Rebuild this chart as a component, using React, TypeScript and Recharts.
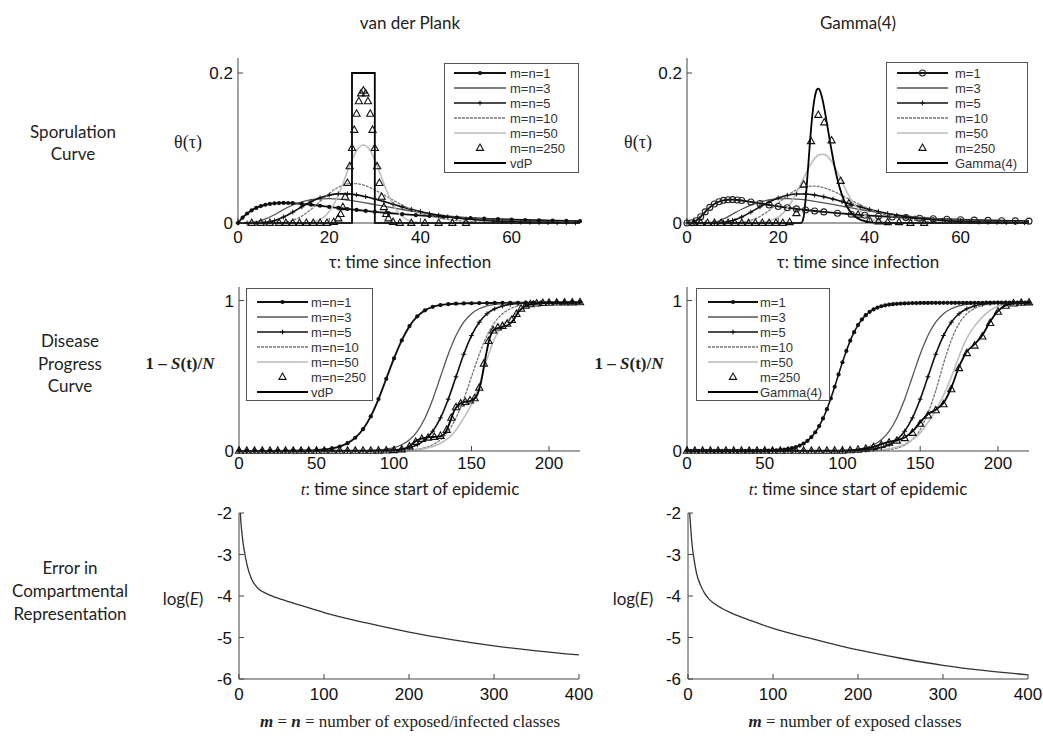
import React from "react";
import { ComposedChart, Line, Scatter, XAxis, YAxis } from "recharts";

// ---------- sporulation curves (tau, 0..75) ----------
const tau2 = [0, 2, 4, 6, 8, 10, 12, 14, 16, 18, 20, 22, 24, 26, 28, 30, 32, 34, 36, 38, 40, 42, 44, 46, 48, 50, 52, 54, 56, 58, 60, 62, 64, 66, 68, 70, 72, 74];

const vdpSpoM1: [number, number][] = [
  [0, 0], [1, 0.0071], [2, 0.0127], [3, 0.0169], [4, 0.0201], [5, 0.0226], [6, 0.0243], [7, 0.0255], [8, 0.0262], [9, 0.0266], [10, 0.0268], [11, 0.0267], [12, 0.0264],
  [14, 0.0255], [16, 0.0243], [18, 0.023], [20, 0.0215], [22, 0.0201], [24, 0.0187], [26, 0.0174], [28, 0.0161], [30, 0.0149], [33, 0.0133], [36, 0.0118], [39, 0.0105],
  [42, 0.0093], [45, 0.0083], [48, 0.0073], [51, 0.0065], [54, 0.0058], [57, 0.0051], [60, 0.0045], [63, 0.004], [66, 0.0036], [69, 0.0032], [72, 0.0028], [75, 0.0025],
];
const vdpSpoM3 = [0, 0.0005, 0.0015, 0.0054, 0.011, 0.018, 0.024, 0.0282, 0.031, 0.0322, 0.0325, 0.0319, 0.0306, 0.0289, 0.0268, 0.0246, 0.0224, 0.0201, 0.018, 0.016, 0.0141, 0.0124, 0.0108, 0.0094, 0.0082, 0.0071, 0.0061, 0.0053, 0.0045, 0.0039, 0.0033, 0.0028, 0.0024, 0.0021, 0.0018, 0.0015, 0.0013, 0.0011];
const vdpSpoM5 = [0, 0, 0.0001, 0.0008, 0.0031, 0.0079, 0.0145, 0.0216, 0.0283, 0.0336, 0.0372, 0.0389, 0.0389, 0.0375, 0.0351, 0.032, 0.0286, 0.025, 0.0215, 0.0182, 0.0153, 0.0126, 0.0103, 0.0084, 0.0067, 0.0054, 0.0043, 0.0034, 0.0026, 0.002, 0.0016, 0.0012, 0.0009, 0.0007, 0.0005, 0.0004, 0.0003, 0.0002];
const vdpSpoM10 = [0, 0, 0, 0, 0.0001, 0.0009, 0.0035, 0.0092, 0.0181, 0.0289, 0.0394, 0.0476, 0.0521, 0.0524, 0.0495, 0.0442, 0.0375, 0.0305, 0.024, 0.0182, 0.0135, 0.0097, 0.0068, 0.0047, 0.0032, 0.0021, 0.0014, 0.0009, 0.0006, 0.0004, 0.0002, 0.0001, 0, 0, 0, 0, 0, 0];
const vdpSpoM50: [number, number][] = [
  [0, 0], [10, 0], [14, 0.0002], [16, 0.0011], [18, 0.0047], [19, 0.0088], [20, 0.0153], [21, 0.0247], [22, 0.0373], [23, 0.0524], [24, 0.0688], [25, 0.0842], [26, 0.0964],
  [27, 0.1031], [27.5, 0.104], [28, 0.1031], [29, 0.0964], [30, 0.0842], [31, 0.0688], [32, 0.0524], [33, 0.0373], [34, 0.0247], [35, 0.0153], [36, 0.0088], [37, 0.0048],
  [38, 0.0024], [40, 0.0005], [42, 0.0001], [46, 0], [75, 0],
];
const vdpSpoM250: [number, number][] = [
  [3, 0], [5, 0], [7, 0], [9, 0], [10.5, 0], [12, 0], [13.5, 0], [15, 0], [16.5, 0], [18, 0], [19.5, 0], [21, 0.0012], [22, 0.0061], [22.5, 0.0118], [23, 0.0211],
  [23.5, 0.0348], [24, 0.0532], [24.5, 0.0755], [25, 0.0998], [25.5, 0.1241], [26, 0.1456], [26.5, 0.1623], [27, 0.1727], [27.5, 0.1764], [28, 0.1727], [28.5, 0.1623],
  [29, 0.1456], [29.5, 0.1241], [30, 0.0998], [30.5, 0.0755], [31, 0.0532], [31.5, 0.0348], [32, 0.0211], [32.5, 0.0118], [33, 0.0061], [34, 0.0012], [35.5, 0], [38, 0],
  [41, 0], [44, 0], [47, 0], [50, 0],
];
const vdpSpoRef: [number, number][] = [[0, 0], [25, 0], [25, 0.2], [30, 0.2], [30, 0], [75, 0]];

const gamSpoM1: [number, number][] = [
  [0, 0], [1, 0.0004], [2, 0.003], [3, 0.0084], [4, 0.0149], [5, 0.0208], [6, 0.0253], [7, 0.0284], [8, 0.0302], [9, 0.031], [10, 0.0312], [11, 0.0307], [12, 0.03],
  [14, 0.0281], [16, 0.026], [18, 0.024], [20, 0.0221], [22, 0.0204], [24, 0.0188], [26, 0.0174], [28, 0.016], [30, 0.0148], [33, 0.0131], [36, 0.0116], [39, 0.0104],
  [42, 0.0091], [45, 0.0081], [48, 0.0072], [51, 0.0064], [54, 0.0057], [57, 0.005], [60, 0.0044], [63, 0.0039], [66, 0.0035], [69, 0.0031], [72, 0.0028], [75, 0.0025],
];
const gamSpoM3 = [0, 0, 0.0003, 0.001, 0.0054, 0.0119, 0.0183, 0.0238, 0.0279, 0.0307, 0.0321, 0.0324, 0.0319, 0.0307, 0.0289, 0.0269, 0.0247, 0.0224, 0.0201, 0.018, 0.016, 0.0141, 0.0124, 0.0108, 0.0094, 0.0082, 0.0071, 0.0061, 0.0053, 0.0045, 0.0039, 0.0033, 0.0028, 0.0024, 0.0021, 0.0018, 0.0015, 0.0013];
const gamSpoM5 = [0, 0, 0, 0.0001, 0.0008, 0.0033, 0.008, 0.0145, 0.0215, 0.0281, 0.0334, 0.0369, 0.0386, 0.0386, 0.0373, 0.0349, 0.0319, 0.0285, 0.025, 0.0215, 0.0182, 0.0153, 0.0126, 0.0103, 0.0084, 0.0067, 0.0054, 0.0043, 0.0034, 0.0026, 0.002, 0.0016, 0.0012, 0.0009, 0.0007, 0.0005, 0.0004, 0.0003];
const gamSpoM10 = [0, 0, 0, 0, 0.0001, 0.0003, 0.001, 0.0035, 0.0087, 0.0168, 0.0268, 0.0365, 0.0443, 0.0485, 0.0492, 0.047, 0.0425, 0.0366, 0.0303, 0.0242, 0.0187, 0.014, 0.0102, 0.0073, 0.0051, 0.0035, 0.0024, 0.0016, 0.001, 0.0007, 0.0004, 0.0003, 0.0002, 0.0001, 0, 0, 0, 0];
const gamSpoM50: [number, number][] = [
  [0, 0], [12, 0], [16, 0.0007], [18, 0.0025], [20, 0.0078], [22, 0.0197], [23, 0.029], [24, 0.04], [25, 0.0524], [26, 0.0652], [27, 0.0769], [28, 0.086], [29, 0.0912],
  [30, 0.0917], [31, 0.0875], [32, 0.0792], [33, 0.0677], [34, 0.0548], [35, 0.0421], [36, 0.0308], [38, 0.016], [40, 0.0065], [42, 0.0025], [44, 0.001], [46, 0.0004],
  [48, 0.0001], [52, 0], [75, 0],
];
const gamSpoM250: [number, number][] = [
  [1.5, 0], [3, 0], [4.5, 0], [6, 0], [7.5, 0], [9, 0], [10.5, 0], [12, 0], [13.5, 0], [15, 0], [16.5, 0], [18, 0], [19.5, 0], [21, 0], [22.5, 0.001], [24, 0.013],
  [25.6, 0.051], [27.2, 0.109], [28.8, 0.144], [30.1, 0.134], [31.7, 0.11], [33.7, 0.056], [35.5, 0.026], [37.5, 0.011], [40, 0.004], [42, 0.002], [44, 0.001],
  [46.5, 0.001], [49, 0], [52, 0],
];
const gamSpoRef: [number, number][] = [
  [0, 0], [25, 0], [25.5, 0.0057], [26, 0.0307], [26.5, 0.0694], [27, 0.1103], [27.5, 0.1443], [28, 0.1672], [28.5, 0.178], [28.75, 0.1793], [29, 0.1783], [29.5, 0.1699],
  [30, 0.1563], [30.5, 0.1395], [31, 0.1214], [31.5, 0.1035], [32, 0.0867], [32.5, 0.0714], [33, 0.0581], [34, 0.0372], [35, 0.0229], [36, 0.0136], [37, 0.008],
  [38, 0.0045], [39, 0.0025], [40, 0.0013], [42, 0.0003], [45, 0], [75, 0],
];

// ---------- disease progress curves (t, 0..220) ----------
const t5 = [0, 5, 10, 15, 20, 25, 30, 35, 40, 45, 50, 55, 60, 65, 70, 75, 80, 85, 90, 95, 100, 105, 110, 115, 120, 125, 130, 135, 140, 145, 150, 155, 160, 165, 170, 175, 180, 185, 190, 195, 200, 205, 210, 215, 220];
const t25 = [0, 2.5, 5, 7.5, 10, 12.5, 15, 17.5, 20, 22.5, 25, 27.5, 30, 32.5, 35, 37.5, 40, 42.5, 45, 47.5, 50, 52.5, 55, 57.5, 60, 62.5, 65, 67.5, 70, 72.5, 75, 77.5, 80, 82.5, 85, 87.5, 90, 92.5, 95, 97.5, 100, 102.5, 105, 107.5, 110, 112.5, 115, 117.5, 120, 122.5, 125, 127.5, 130, 132.5, 135, 137.5, 140, 142.5, 145, 147.5, 150, 152.5, 155, 157.5, 160, 162.5, 165, 167.5, 170, 172.5, 175, 177.5, 180, 182.5, 185, 187.5, 190, 192.5, 195, 197.5, 200, 202.5, 205, 207.5, 210, 212.5, 215, 217.5, 220];

const vdpDisM1 = [0.001, 0.001, 0.001, 0.001, 0.001, 0.001, 0.001, 0.002, 0.003, 0.004, 0.006, 0.01, 0.017, 0.03, 0.052, 0.088, 0.145, 0.23, 0.345, 0.48, 0.615, 0.735, 0.83, 0.895, 0.935, 0.958, 0.97, 0.976, 0.979, 0.981, 0.982, 0.983, 0.983, 0.984, 0.984, 0.985, 0.985, 0.986, 0.986, 0.987, 0.987, 0.988, 0.988, 0.989, 0.989];
const vdpDisM3 = [0.001, 0.001, 0.001, 0.001, 0.001, 0.001, 0.001, 0.001, 0.001, 0.001, 0.001, 0.001, 0.001, 0.001, 0.001, 0.001, 0.0019, 0.0036, 0.0066, 0.0122, 0.0227, 0.0415, 0.0749, 0.1312, 0.2198, 0.3442, 0.4935, 0.6428, 0.7672, 0.8558, 0.9121, 0.9455, 0.9643, 0.9748, 0.9804, 0.9834, 0.9851, 0.986, 0.9865, 0.987, 0.987, 0.987, 0.988, 0.988, 0.988];
const vdpDisM5 = [0.001, 0.001, 0.001, 0.001, 0.001, 0.001, 0.001, 0.001, 0.001, 0.001, 0.001, 0.001, 0.001, 0.001, 0.001, 0.001, 0.001, 0.001, 0.0019, 0.0036, 0.0066, 0.0122, 0.0227, 0.0415, 0.0749, 0.1312, 0.2198, 0.3442, 0.4935, 0.6428, 0.7672, 0.8558, 0.9121, 0.9455, 0.9643, 0.9748, 0.9804, 0.9834, 0.9851, 0.986, 0.9865, 0.987, 0.987, 0.988, 0.988];
const vdpDisM10 = [0.001, 0.001, 0.001, 0.001, 0.001, 0.001, 0.001, 0.001, 0.001, 0.001, 0.001, 0.001, 0.001, 0.001, 0.001, 0.001, 0.001, 0.001, 0.001, 0.001, 0.0019, 0.0036, 0.0066, 0.0122, 0.0227, 0.0415, 0.0749, 0.1312, 0.2198, 0.3442, 0.4935, 0.6428, 0.7672, 0.8558, 0.9121, 0.9455, 0.9643, 0.9748, 0.9804, 0.9834, 0.9851, 0.986, 0.9865, 0.987, 0.987];
const vdpDisM50 = [0.001, 0.001, 0.001, 0.001, 0.001, 0.001, 0.001, 0.001, 0.001, 0.001, 0.001, 0.001, 0.001, 0.001, 0.001, 0.001, 0.001, 0.001, 0.001, 0.001, 0.001, 0.002, 0.004, 0.008, 0.016, 0.03, 0.052, 0.085, 0.14, 0.22, 0.31, 0.44, 0.61, 0.75, 0.835, 0.885, 0.925, 0.955, 0.972, 0.98, 0.984, 0.986, 0.987, 0.987, 0.988];
const vdpDisM250: [number, number][] = [
  [0, 0.001], [5, 0.001], [10, 0.001], [15, 0.001], [20, 0.001], [25, 0.001], [30, 0.001], [35, 0.001], [40, 0.001], [45, 0.001], [50, 0.001], [55, 0.001], [60, 0.001],
  [65, 0.001], [70, 0.001], [75, 0.001], [80, 0.001], [85, 0.001], [90, 0.002], [95, 0.003], [100, 0.005], [105, 0.01], [110, 0.03], [114, 0.06], [118, 0.08], [122, 0.088],
  [126, 0.093], [130, 0.1], [134, 0.14], [137, 0.22], [140, 0.29], [143, 0.315], [146, 0.325], [149, 0.335], [152, 0.35], [155, 0.42], [158, 0.58], [161, 0.73], [164, 0.8],
  [167, 0.82], [170, 0.83], [173, 0.845], [176, 0.87], [179, 0.91], [182, 0.945], [185, 0.965], [188, 0.975], [192, 0.98], [196, 0.983], [200, 0.985], [205, 0.986],
  [210, 0.987], [215, 0.987], [220, 0.988],
];
const vdpDisRef: [number, number][] = [
  [0, 0.001], [90, 0.002], [100, 0.005], [105, 0.01], [108, 0.02], [111, 0.04], [114, 0.065], [117, 0.08], [120, 0.088], [125, 0.093], [130, 0.098], [133, 0.12], [136, 0.19],
  [139, 0.27], [142, 0.31], [145, 0.325], [150, 0.335], [153, 0.36], [156, 0.45], [159, 0.62], [162, 0.76], [165, 0.81], [170, 0.825], [174, 0.84], [177, 0.87], [180, 0.92],
  [184, 0.96], [188, 0.975], [195, 0.982], [220, 0.987],
];

const gamDisM1 = [
  0.001, 0.001, 0.001, 0.001, 0.001, 0.001, 0.001, 0.001, 0.001, 0.001, 0.001, 0.001, 0.001, 0.001, 0.001, 0.001, 0.001,
  0.001, 0.0012, 0.0015, 0.002, 0.0027, 0.0036, 0.005, 0.007, 0.0098, 0.0136, 0.0189, 0.0262, 0.0361, 0.0496, 0.0679, 0.0925, 0.1247, 0.1655, 0.2165, 0.278, 0.349, 0.427, 0.509,
  0.59, 0.665, 0.733, 0.79, 0.837, 0.874, 0.903, 0.925, 0.941, 0.953, 0.962, 0.968, 0.973, 0.976, 0.978, 0.98, 0.981, 0.982, 0.983, 0.983, 0.984,
  0.984, 0.984, 0.985, 0.985, 0.985, 0.985, 0.985, 0.985, 0.985, 0.985, 0.985, 0.985, 0.985, 0.985, 0.985, 0.985, 0.986, 0.986, 0.986, 0.986, 0.986, 0.986, 0.986, 0.986, 0.986, 0.986, 0.986, 0.986,
];
const gamDisM3 = [0.001, 0.001, 0.001, 0.001, 0.001, 0.001, 0.001, 0.001, 0.001, 0.001, 0.001, 0.001, 0.001, 0.001, 0.001, 0.001, 0.001, 0.001, 0.001, 0.0019, 0.0036, 0.0066, 0.0122, 0.0227, 0.0415, 0.0749, 0.1312, 0.2198, 0.3442, 0.4935, 0.6428, 0.7672, 0.8558, 0.9121, 0.9455, 0.9643, 0.9748, 0.9804, 0.9834, 0.9851, 0.986, 0.9865, 0.987, 0.987, 0.988];
const gamDisM5 = [0.001, 0.001, 0.001, 0.001, 0.001, 0.001, 0.001, 0.001, 0.001, 0.001, 0.001, 0.001, 0.001, 0.001, 0.001, 0.001, 0.001, 0.001, 0.001, 0.001, 0.001, 0.0019, 0.0036, 0.0066, 0.0122, 0.0227, 0.0415, 0.0749, 0.1312, 0.2198, 0.3442, 0.4935, 0.6428, 0.7672, 0.8558, 0.9121, 0.9455, 0.9643, 0.9748, 0.9804, 0.9834, 0.9851, 0.986, 0.9865, 0.987];
const gamDisM10 = [0.001, 0.001, 0.001, 0.001, 0.001, 0.001, 0.001, 0.001, 0.001, 0.001, 0.001, 0.001, 0.001, 0.001, 0.001, 0.001, 0.001, 0.001, 0.001, 0.001, 0.001, 0.001, 0.001, 0.0011, 0.0023, 0.0047, 0.0096, 0.0193, 0.0388, 0.0749, 0.142, 0.252, 0.4, 0.58, 0.736, 0.847, 0.912, 0.947, 0.967, 0.977, 0.982, 0.984, 0.985, 0.986, 0.987];
const gamDisM50 = [0.001, 0.001, 0.001, 0.001, 0.001, 0.001, 0.001, 0.001, 0.001, 0.001, 0.001, 0.001, 0.001, 0.001, 0.001, 0.001, 0.001, 0.001, 0.001, 0.001, 0.001, 0.001, 0.001, 0.002, 0.004, 0.008, 0.015, 0.027, 0.045, 0.075, 0.12, 0.19, 0.27, 0.37, 0.49, 0.63, 0.75, 0.83, 0.89, 0.935, 0.962, 0.976, 0.982, 0.985, 0.987];
const gamDisM250: [number, number][] = [
  [0, 0.001], [5, 0.001], [10, 0.001], [15, 0.001], [20, 0.001], [25, 0.001], [30, 0.001], [35, 0.001], [40, 0.001], [45, 0.001], [50, 0.001], [55, 0.001], [60, 0.001],
  [65, 0.001], [70, 0.001], [75, 0.001], [80, 0.001], [85, 0.001], [90, 0.001], [95, 0.002], [100, 0.002], [105, 0.004], [110, 0.008], [115, 0.014], [120, 0.025],
  [125, 0.04], [130, 0.055], [135, 0.068], [140, 0.085], [145, 0.12], [150, 0.18], [155, 0.235], [160, 0.27], [165, 0.31], [170, 0.41], [175, 0.55], [180, 0.65],
  [185, 0.7], [190, 0.76], [195, 0.85], [200, 0.925], [205, 0.965], [210, 0.98], [215, 0.985], [220, 0.987],
];
const gamDisRef: [number, number][] = [
  [0, 0.001], [100, 0.002], [105, 0.004], [110, 0.008], [115, 0.015], [120, 0.027], [125, 0.045], [130, 0.06], [135, 0.072], [140, 0.09], [145, 0.13], [150, 0.19], [155, 0.245],
  [160, 0.275], [165, 0.32], [170, 0.42], [175, 0.56], [180, 0.66], [185, 0.71], [190, 0.77], [195, 0.86], [200, 0.93], [205, 0.968], [210, 0.981], [215, 0.985], [220, 0.987],
];

// ---------- log error vs number of classes ----------
const errVdp: [number, number][] = [
  [1, -1.8], [2, -2.15], [3, -2.4], [5, -2.75], [7, -3.0], [10, -3.3], [15, -3.6], [20, -3.76], [25, -3.86], [30, -3.92], [40, -4.01], [50, -4.08], [75, -4.24], [100, -4.4],
  [150, -4.65], [200, -4.87], [250, -5.05], [300, -5.2], [350, -5.32], [400, -5.42],
];
const errGam: [number, number][] = [
  [1, -1.7], [2, -2.0], [3, -2.3], [5, -2.8], [7, -3.1], [10, -3.45], [15, -3.75], [20, -3.95], [25, -4.08], [30, -4.17], [40, -4.3], [50, -4.4], [75, -4.6], [100, -4.78],
  [150, -5.05], [200, -5.3], [250, -5.5], [300, -5.67], [350, -5.8], [400, -5.9],
];

const vdpNames = ["m=n=1", "m=n=3", "m=n=5", "m=n=10", "m=n=50", "m=n=250", "vdP"];
const gamNames = ["m=1", "m=3", "m=5", "m=10", "m=50", "m=250", "Gamma(4)"];

// ---------- helpers ----------
type Pt = { x: number; y: number };
const zip = (xs: number[], ys: number[]): Pt[] => xs.map((x, i) => ({ x, y: ys[i] }));
const pairs = (p: [number, number][]): Pt[] => p.map(([x, y]) => ({ x, y }));

type Style = { stroke?: string; width?: number; dash?: string; marker?: string; scatter?: boolean; curve?: "monotone" | "linear" };
const ST_M1: Style = { stroke: "#111", width: 1.9, marker: "dot" };
const ST_M1G: Style = { stroke: "#111", width: 1.9, marker: "circle" };
const ST_M3: Style = { stroke: "#555", width: 1.3 };
const ST_M5: Style = { stroke: "#111", width: 1.6, marker: "plus" };
const ST_M10: Style = { stroke: "#777", width: 1.3, dash: "3 1" };
const ST_M50: Style = { stroke: "#bdbdbd", width: 1.6 };
const ST_M250: Style = { marker: "tri", scatter: true };
const ST_REF: Style = { stroke: "#000", width: 1.8 };

function Marker({ kind, cx, cy }: { kind: string; cx: number; cy: number }) {
  if (cx == null || cy == null) return null;
  if (kind === "dot") return <circle cx={cx} cy={cy} r={2.1} fill="#111" />;
  if (kind === "circle") return <circle cx={cx} cy={cy} r={3} fill="none" stroke="#222" strokeWidth={1.1} />;
  if (kind === "plus")
    return <path d={`M${cx - 2.4},${cy}H${cx + 2.4}M${cx},${cy - 2.4}V${cy + 2.4}`} stroke="#111" strokeWidth={1} />;
  if (kind === "tri")
    return <path d={`M${cx},${cy - 4}L${cx + 3.6},${cy + 2.4}L${cx - 3.6},${cy + 2.4}Z`} fill="none" stroke="#111" strokeWidth={1.1} />;
  return null;
}

const AXIS = { stroke: "#444", strokeWidth: 1 };
const TICK = { fontSize: 17, fill: "#111", fontFamily: "Liberation Sans, Arial, sans-serif" };

type SeriesDef = { data: Pt[]; style: Style };
type Box = { x0: number; y0: number; x1: number; y1: number };

function Panel({ box, xDomain, yDomain, xTicks, yTicks, series, xMargin, yMargin, clip }: {
  box: Box; xDomain: [number, number]; yDomain: [number, number]; xTicks: number[]; yTicks: number[];
  series: SeriesDef[]; xMargin: number; yMargin: number; clip?: boolean;
}) {
  const YW = 50, MT = 10, MR = 24, XH = 34;
  const w = YW + (box.x1 - box.x0) + MR;
  const h = MT + (box.y1 - box.y0) + XH;
  return (
    <div style={{ position: "absolute", left: box.x0 - YW, top: box.y0 - MT }}>
      <ComposedChart width={w} height={h} margin={{ top: MT, right: MR, bottom: 0, left: 0 }}>
        <XAxis xAxisId="b" type="number" dataKey="x" domain={xDomain} ticks={xTicks} interval={0} height={XH}
          allowDataOverflow={clip} tickSize={-5} tickMargin={xMargin} axisLine={AXIS} tickLine={AXIS} tick={TICK} />
        <XAxis xAxisId="t" orientation="top" type="number" dataKey="x" domain={xDomain} ticks={xTicks} interval={0} height={0}
          tickSize={-5} axisLine={AXIS} tickLine={AXIS} tick={false} />
        <YAxis yAxisId="l" type="number" dataKey="y" domain={yDomain} ticks={yTicks} interval={0} width={YW}
          allowDataOverflow={clip} tickSize={-5} tickMargin={yMargin} axisLine={AXIS} tickLine={AXIS} tick={TICK} />
        <YAxis yAxisId="r" orientation="right" type="number" dataKey="y" domain={yDomain} ticks={yTicks} interval={0} width={0}
          tickSize={-5} axisLine={AXIS} tickLine={AXIS} tick={false} />
        {series.map((s, i) =>
          s.style.scatter ? (
            <Scatter key={i} data={s.data} xAxisId="b" yAxisId="l" isAnimationActive={false}
              shape={(p: any) => <Marker kind={s.style.marker!} cx={p.cx} cy={p.cy} />} />
          ) : (
            <Line key={i} data={s.data} dataKey="y" xAxisId="b" yAxisId="l" type={s.style.curve ?? "monotone"}
              stroke={s.style.stroke} strokeWidth={s.style.width} strokeDasharray={s.style.dash}
              isAnimationActive={false} activeDot={false}
              dot={s.style.marker ? (p: any) => <Marker key={p.index} kind={s.style.marker!} cx={p.cx} cy={p.cy} /> : false} />
          )
        )}
      </ComposedChart>
    </div>
  );
}

function LegendBox({ left, top, width, height, names, styles, firstY, lx0, lx1, tx }: {
  left: number; top: number; width: number; height: number; names: string[]; styles: Style[];
  firstY: number; lx0: number; lx1: number; tx: number;
}) {
  return (
    <div style={{ position: "absolute", left, top, width, height, border: "1px solid #555", background: "#fff", boxSizing: "border-box" }}>
      <svg width={width} height={height} style={{ position: "absolute", left: -1, top: -1 }}>
        {names.map((n, i) => {
          const y = firstY + i * 15;
          const st = styles[i];
          const mid = (lx0 + lx1) / 2;
          return (
            <g key={n}>
              {!st.scatter && (
                <line x1={lx0} x2={lx1} y1={y} y2={y} stroke={st.stroke} strokeWidth={st.width} strokeDasharray={st.dash} />
              )}
              {st.marker && <Marker kind={st.marker} cx={mid} cy={y} />}
              <text x={tx} y={y} dominantBaseline="central" fontSize={13} fill="#333" fontFamily="Liberation Sans, Arial, sans-serif">{n}</text>
            </g>
          );
        })}
      </svg>
    </div>
  );
}

function Label({ x, y, style, children }: { x: number; y: number; style?: React.CSSProperties; children: React.ReactNode }) {
  return (
    <div style={{ position: "absolute", left: x, top: y, transform: "translate(-50%, -50%)", whiteSpace: "nowrap", textAlign: "center", ...style }}>
      {children}
    </div>
  );
}

const SANS: React.CSSProperties = { fontFamily: "Lato, 'Open Sans', sans-serif", fontSize: 17 };
const SERIF: React.CSSProperties = { fontFamily: "'Liberation Serif', 'DejaVu Serif', serif", fontSize: 17 };

const vdpStyles = [ST_M1, ST_M3, ST_M5, ST_M10, ST_M50, ST_M250, ST_REF];
const gamStyles = [ST_M1G, ST_M3, ST_M5, ST_M10, ST_M50, ST_M250, ST_REF];

export default function App() {
  const spoVdp: SeriesDef[] = [
    { data: pairs(vdpSpoM1), style: ST_M1 },
    { data: zip(tau2, vdpSpoM3), style: ST_M3 },
    { data: zip(tau2, vdpSpoM5), style: ST_M5 },
    { data: zip(tau2, vdpSpoM10), style: ST_M10 },
    { data: pairs(vdpSpoM50), style: ST_M50 },
    { data: pairs(vdpSpoM250), style: ST_M250 },
    { data: pairs(vdpSpoRef), style: { ...ST_REF, curve: "linear" } },
  ];
  const spoGam: SeriesDef[] = [
    { data: pairs(gamSpoM1), style: ST_M1G },
    { data: zip(tau2, gamSpoM3), style: ST_M3 },
    { data: zip(tau2, gamSpoM5), style: ST_M5 },
    { data: zip(tau2, gamSpoM10), style: ST_M10 },
    { data: pairs(gamSpoM50), style: ST_M50 },
    { data: pairs(gamSpoM250), style: ST_M250 },
    { data: pairs(gamSpoRef), style: ST_REF },
  ];
  const disVdp: SeriesDef[] = [
    { data: zip(t5, vdpDisM1), style: ST_M1 },
    { data: zip(t5, vdpDisM3), style: ST_M3 },
    { data: zip(t5, vdpDisM5), style: ST_M5 },
    { data: zip(t5, vdpDisM10), style: ST_M10 },
    { data: zip(t5, vdpDisM50), style: ST_M50 },
    { data: pairs(vdpDisM250), style: ST_M250 },
    { data: pairs(vdpDisRef), style: ST_REF },
  ];
  const disGam: SeriesDef[] = [
    { data: zip(t25, gamDisM1), style: { ...ST_M1, width: 1.6 } },
    { data: zip(t5, gamDisM3), style: ST_M3 },
    { data: zip(t5, gamDisM5), style: ST_M5 },
    { data: zip(t5, gamDisM10), style: ST_M10 },
    { data: zip(t5, gamDisM50), style: ST_M50 },
    { data: pairs(gamDisM250), style: ST_M250 },
    { data: pairs(gamDisRef), style: ST_REF },
  ];
  const errStyle: Style = { stroke: "#333", width: 1.3 };

  return (
    <div style={{ position: "absolute", left: 0, top: 0, width: 1043, height: 740, background: "#fff", color: "#222", overflow: "hidden" }}>
      <Label x={410} y={22} style={SANS}>van der Plank</Label>
      <Label x={858} y={22} style={SANS}>Gamma(4)</Label>

      <Label x={73} y={143} style={{ ...SANS, lineHeight: "22px" }}>Sporulation<br />Curve</Label>
      <Label x={70} y={364} style={{ ...SANS, lineHeight: "22.5px" }}>Disease<br />Progress<br />Curve</Label>
      <Label x={70} y={590} style={{ ...SANS, lineHeight: "23px" }}>Error in<br />Compartmental<br />Representation</Label>

      <Label x={188} y={142} style={{ ...SERIF, fontSize: 18 }}>θ(τ)</Label>
      <Label x={638} y={142} style={{ ...SERIF, fontSize: 18 }}>θ(τ)</Label>
      <Label x={180} y={364} style={{ ...SERIF, fontWeight: "bold" }}>1 – <i>S</i>(t)/<i>N</i></Label>
      <Label x={629} y={364} style={{ ...SERIF, fontWeight: "bold" }}>1 – <i>S</i>(t)/<i>N</i></Label>
      <Label x={183} y={598} style={SANS}>log(<i>E</i>)</Label>
      <Label x={633} y={598} style={SANS}>log(<i>E</i>)</Label>

      <Label x={410} y={261} style={SANS}>τ: time since infection</Label>
      <Label x={858} y={261} style={SANS}>τ: time since infection</Label>
      <Label x={410} y={489} style={SANS}><i style={{ fontFamily: "'Liberation Serif', serif" }}>t</i>: time since start of epidemic</Label>
      <Label x={858} y={489} style={SANS}><i style={{ fontFamily: "'Liberation Serif', serif" }}>t</i>: time since start of epidemic</Label>
      <Label x={410} y={722} style={SERIF}><b><i>m</i></b> = <b><i>n</i></b> = number of exposed/infected classes</Label>
      <Label x={855} y={722} style={SERIF}><b><i>m</i></b> = number of exposed classes</Label>

      <Panel box={{ x0: 238, y0: 58, x1: 580, y1: 223 }} xDomain={[0, 75]} yDomain={[0, 0.22]} xTicks={[0, 20, 40, 60]} yTicks={[0, 0.2]}
        series={spoVdp} xMargin={13} yMargin={10} />
      <Panel box={{ x0: 687, y0: 58, x1: 1029, y1: 223 }} xDomain={[0, 75]} yDomain={[0, 0.22]} xTicks={[0, 20, 40, 60]} yTicks={[0, 0.2]}
        series={spoGam} xMargin={13} yMargin={10} />
      <Panel box={{ x0: 239, y0: 287, x1: 580, y1: 451 }} xDomain={[0, 220]} yDomain={[0, 1.09]} xTicks={[0, 50, 100, 150, 200]} yTicks={[0, 1]}
        series={disVdp} xMargin={11} yMargin={10} />
      <Panel box={{ x0: 687, y0: 287, x1: 1029, y1: 451 }} xDomain={[0, 220]} yDomain={[0, 1.09]} xTicks={[0, 50, 100, 150, 200]} yTicks={[0, 1]}
        series={disGam} xMargin={11} yMargin={10} />
      <Panel box={{ x0: 239, y0: 513, x1: 579, y1: 679 }} xDomain={[0, 400]} yDomain={[-6, -2]} xTicks={[0, 100, 200, 300, 400]} yTicks={[-6, -5, -4, -3, -2]}
        series={[{ data: pairs(errVdp), style: errStyle }]} xMargin={14} yMargin={12} clip />
      <Panel box={{ x0: 688, y0: 513, x1: 1028, y1: 679 }} xDomain={[0, 400]} yDomain={[-6, -2]} xTicks={[0, 100, 200, 300, 400]} yTicks={[-6, -5, -4, -3, -2]}
        series={[{ data: pairs(errGam), style: errStyle }]} xMargin={14} yMargin={12} clip />

      <LegendBox left={444} top={63} width={135} height={110} names={vdpNames} styles={vdpStyles} firstY={10} lx0={10} lx1={62} tx={66} />
      <LegendBox left={886} top={62} width={142} height={111} names={gamNames} styles={gamStyles} firstY={11} lx0={11} lx1={62} tx={69} />
      <LegendBox left={246} top={288} width={127} height={113} names={vdpNames} styles={vdpStyles} firstY={14} lx0={11} lx1={62} tx={65} />
      <LegendBox left={696} top={288} width={134} height={113} names={gamNames} styles={vdpStyles} firstY={14} lx0={12} lx1={62} tx={64} />
    </div>
  );
}
